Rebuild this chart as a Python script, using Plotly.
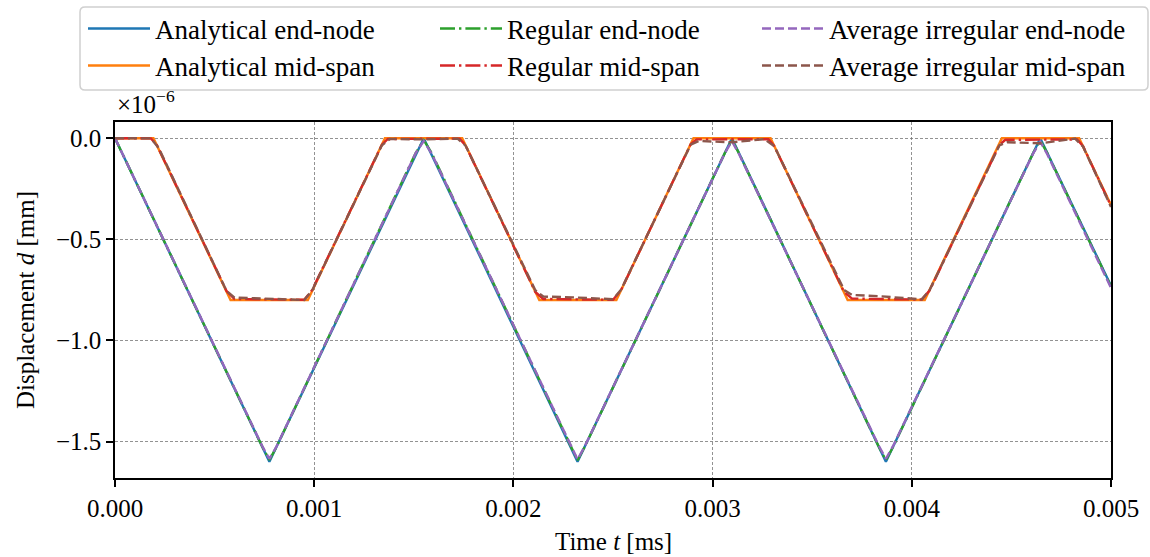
import plotly.graph_objects as go

# Time t [ms]; displacement d in units of 1e-6 mm (axis offset text ×10^-6)
t_analytical_end = [0, 0.000775, 0.00155, 0.002322, 0.003097, 0.00387, 0.004645, 0.005]
d_analytical_end = [0, -1.6, 0, -1.6, 0, -1.6, 0, -0.73]

t_analytical_mid = [0, 0.000193, 0.00058, 0.000968, 0.001355, 0.001743, 0.00213, 0.002517,
                    0.002904, 0.003291, 0.003678, 0.004065, 0.004452, 0.00484, 0.005]
d_analytical_mid = [0, 0, -0.8, -0.8, 0, 0, -0.8, -0.8, 0, 0, -0.8, -0.8, 0, 0, -0.33]

t_regular_end = [0, 0.00074, 0.000775, 0.00081, 0.00151, 0.00155, 0.00159, 0.002287, 0.002322,
                 0.002357, 0.003062, 0.003097, 0.003132, 0.003835, 0.00387, 0.003905, 0.00461,
                 0.004645, 0.00468, 0.005]
d_regular_end = [0, -1.527, -1.59, -1.528, -0.072, -0.01, -0.074, -1.527, -1.592, -1.528,
                 -0.072, -0.01, -0.074, -1.527, -1.592, -1.528, -0.072, -0.012, -0.074, -0.733]

t_regular_mid = [0, 0.00018, 0.00021, 0.00056, 0.0006, 0.00095, 0.00099, 0.00134, 0.00137,
                 0.00173, 0.00176, 0.00211, 0.00215, 0.0025, 0.00254, 0.00289, 0.00292,
                 0.00328, 0.00331, 0.00366, 0.0037, 0.00405, 0.00409, 0.00444, 0.00447,
                 0.00483, 0.00486, 0.005]
d_regular_mid = [0, -0.001, -0.033, -0.756, -0.795, -0.799, -0.75, -0.032, -0.004, -0.002,
                 -0.036, -0.76, -0.795, -0.799, -0.752, -0.03, -0.006, -0.005, -0.04, -0.76,
                 -0.793, -0.798, -0.752, -0.033, -0.008, -0.006, -0.04, -0.335]

t_irregular_end = [0, 0.00074, 0.000775, 0.00081, 0.00151, 0.00155, 0.00159, 0.002287, 0.002322,
                   0.002357, 0.003062, 0.003097, 0.003132, 0.003835, 0.00387, 0.003905, 0.00461,
                   0.004645, 0.00468, 0.005]
d_irregular_end = [0, -1.524, -1.585, -1.526, -0.073, -0.014, -0.077, -1.522, -1.588, -1.526,
                   -0.073, -0.015, -0.077, -1.522, -1.585, -1.524, -0.074, -0.017, -0.079, -0.74]

t_irregular_mid = [0, 0.00018, 0.00022, 0.00056, 0.0006, 0.00078, 0.00095, 0.00099, 0.00134,
                   0.00138, 0.00155, 0.00172, 0.00176, 0.00211, 0.00215, 0.0023, 0.0025,
                   0.00254, 0.00289, 0.00293, 0.0031, 0.00326, 0.00331, 0.00366, 0.0037,
                   0.00385, 0.00405, 0.00409, 0.00444, 0.00448, 0.00465, 0.00482, 0.00486,
                   0.005]
d_irregular_mid = [0, -0.001, -0.05, -0.755, -0.788, -0.795, -0.8, -0.752, -0.035, -0.004,
                   -0.006, -0.002, -0.037, -0.752, -0.783, -0.787, -0.796, -0.75, -0.032,
                   -0.014, -0.02, -0.005, -0.04, -0.75, -0.775, -0.782, -0.797, -0.75, -0.035,
                   -0.02, -0.025, -0.002, -0.042, -0.34]

names = ["Analytical end-node", "Analytical mid-span", "Regular end-node",
         "Regular mid-span", "Average irregular end-node", "Average irregular mid-span"]

x_ticks = [0.000, 0.001, 0.002, 0.003, 0.004, 0.005]
y_ticks = [0.0, -0.5, -1.0, -1.5]

W, H = 1150, 557
ML, MR, MT, MB = 115, 39, 122, 79
FONT = "Liberation Serif"
LW = 2.4
DASHDOT = "15px,4px,2.4px,4px"
DASHED = "9px,4px"

series = [
    (names[0], t_analytical_end, d_analytical_end, "#1f77b4", "solid", "legend"),
    (names[1], t_analytical_mid, d_analytical_mid, "#ff7f0e", "solid", "legend2"),
    (names[2], t_regular_end, d_regular_end, "#2ca02c", DASHDOT, "legend3"),
    (names[3], t_regular_mid, d_regular_mid, "#d62728", DASHDOT, "legend4"),
    (names[4], t_irregular_end, d_irregular_end, "#9467bd", DASHED, "legend5"),
    (names[5], t_irregular_mid, d_irregular_mid, "#8c564b", DASHED, "legend6"),
]

fig = go.Figure()
for name, t, d, color, dash, leg in series:
    fig.add_trace(go.Scatter(x=t, y=d, mode="lines", name=name, legend=leg,
                             line=dict(color=color, width=LW, dash=dash)))

# legend entry positions (pixels): column left edges, row centres
col_px = [83, 435, 757]
row_px = [29, 66]
legend_ids = ["legend", "legend2", "legend3", "legend4", "legend5", "legend6"]
layout_legends = {}
for i, lid in enumerate(legend_ids):
    c, r = i // 2, i % 2
    layout_legends[lid] = dict(
        x=col_px[c] / W, xref="container", y=1 - row_px[r] / H, yref="container",
        xanchor="left", yanchor="middle", bgcolor="rgba(0,0,0,0)", borderwidth=0,
        itemwidth=62, font=dict(family=FONT, size=27, color="black"),
    )

pw, ph = W - ML - MR, H - MT - MB
def px_x(x):
    return (x - ML) / pw
def px_y(y):
    return (H - MB - y) / ph

# legend frame (rounded rectangle) in paper coordinates
fx0, fx1, fy0, fy1 = 80, 1148, 7, 90
rad = 5
def P(x, y):
    return f"{px_x(x):.5f},{px_y(y):.5f}"
path = (f"M{P(fx0 + rad, fy0)} L{P(fx1 - rad, fy0)} Q{P(fx1, fy0)} {P(fx1, fy0 + rad)} "
        f"L{P(fx1, fy1 - rad)} Q{P(fx1, fy1)} {P(fx1 - rad, fy1)} "
        f"L{P(fx0 + rad, fy1)} Q{P(fx0, fy1)} {P(fx0, fy1 - rad)} "
        f"L{P(fx0, fy0 + rad)} Q{P(fx0, fy0)} {P(fx0 + rad, fy0)} Z")

axis_common = dict(
    showline=True, linecolor="black", linewidth=1.5, mirror=True,
    ticks="outside", ticklen=7, tickwidth=1.5, tickcolor="black",
    showgrid=True, gridcolor="rgba(110,110,110,0.75)", gridwidth=0.8, griddash="3px,2px",
    zeroline=False, tickfont=dict(family=FONT, size=25, color="black"),
)

title_font = dict(family=FONT, size=25, color="black")
fig.update_layout(
    width=W, height=H,
    margin=dict(l=ML, r=MR, t=MT, b=MB, autoexpand=False),
    paper_bgcolor="white", plot_bgcolor="white",
    font=dict(family=FONT, size=25, color="black"),
    showlegend=True,
    shapes=[dict(type="path", xref="paper", yref="paper", path=path,
                 line=dict(color="#d0d0d0", width=1.5), fillcolor="white", layer="below")],
    annotations=[
        dict(text="×10<sup>−6</sup>", xref="paper", yref="paper", x=0, y=1,
             xanchor="left", yanchor="bottom", yshift=2, showarrow=False, font=title_font),
        dict(text="Time <i>t</i> [ms]", xref="paper", yref="paper", x=0.5,
             y=px_y(541), xanchor="center", yanchor="middle", showarrow=False,
             font=title_font),
        dict(text="Displacement <i>d</i> [mm]", xref="paper", yref="paper",
             x=px_x(25), y=0.5, xanchor="center", yanchor="middle", textangle=-90,
             showarrow=False, font=title_font),
    ],
    xaxis=dict(range=[0, 0.005], tickvals=x_ticks, tickformat=".3f", **axis_common),
    yaxis=dict(range=[-1.68, 0.08], tickvals=y_ticks, tickformat=".1f", **axis_common),
    **layout_legends,
)

fig.write_html("out.html", config={"displayModeBar": False},
               post_script="document.body.style.margin='0px';")
